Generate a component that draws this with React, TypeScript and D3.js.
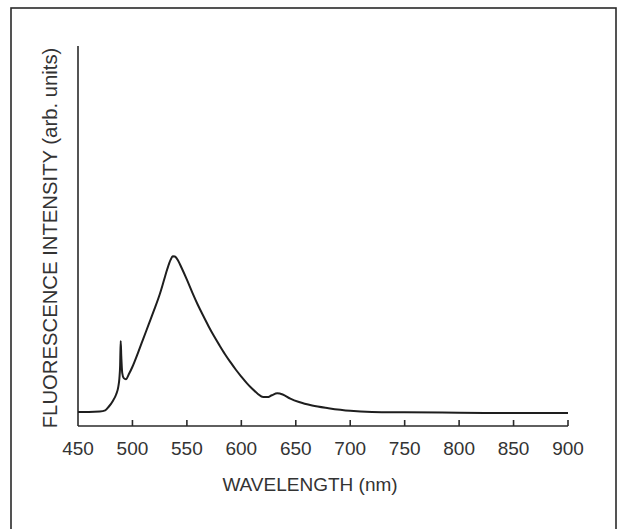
import React, { useEffect, useRef } from 'react';
import * as d3 from 'd3';

// spectrum (wavelength in nm, intensity in arb. units 0..100)
const wavelength = [
  450, 460, 470, 475, 478, 482, 485, 487, 488, 488.7, 489.2, 489.8, 490.6, 492, 494,
  497, 500, 505, 510, 515, 520, 525, 529, 532, 535, 537, 539, 542, 545, 550, 555,
  560, 565, 570, 575, 580, 585, 590, 595, 600, 605, 610, 615, 620, 624, 628, 633,
  638, 645, 653, 665, 680, 700, 720, 750, 800, 850, 900,
];
const intensity = [
  3.7, 3.7, 3.8, 4.1, 5.0, 6.6, 8.3, 10.3, 12.5, 16, 22.4, 18, 14, 12.6, 12.3,
  13.8, 15.6, 19.2, 23, 26.8, 30.6, 34.6, 38.4, 41.3, 43.7, 44.7, 44.6, 43.5, 41.7, 38.5, 35.1,
  31.9, 29, 26.2, 23.6, 21.2, 18.9, 16.8, 14.8, 13, 11.3, 9.8, 8.5, 7.6, 7.6, 8.1, 8.6,
  8.3, 7.2, 6.3, 5.4, 4.7, 4.0, 3.7, 3.6, 3.5, 3.4, 3.4,
];
const xTicks = [450, 500, 550, 600, 650, 700, 750, 800, 850, 900];
const xLabel = 'WAVELENGTH (nm)';
const yLabel = 'FLUORESCENCE INTENSITY (arb. units)';

export default function App() {
  const ref = useRef<SVGSVGElement>(null);

  useEffect(() => {
    const W = 618, H = 529;
    const left = 78, right = 568, top = 46, bottom = 426;
    const ink = '#2a2a2a';
    const font = 'Liberation Sans, Arial, Helvetica, sans-serif';

    const svg = d3.select(ref.current);
    svg.selectAll('*').remove();
    svg.attr('width', W).attr('height', H);

    svg.append('rect').attr('width', W).attr('height', H).attr('fill', '#fff');

    // frame around the figure (its bottom edge runs off the page)
    svg.append('rect')
      .attr('x', 11).attr('y', 8)
      .attr('width', 605).attr('height', 560)
      .attr('fill', 'none').attr('stroke', ink).attr('stroke-width', 1.6);

    const x = d3.scaleLinear().domain([450, 900]).range([left, right]);
    const y = d3.scaleLinear().domain([0, 100]).range([bottom, top]);

    // axes
    svg.append('line')
      .attr('x1', left).attr('x2', left).attr('y1', top).attr('y2', bottom)
      .attr('stroke', ink).attr('stroke-width', 1.6);
    svg.append('line')
      .attr('x1', left).attr('x2', right).attr('y1', bottom).attr('y2', bottom)
      .attr('stroke', ink).attr('stroke-width', 1.6);

    // ticks point inward (up)
    svg.selectAll('.tick')
      .data(xTicks.filter(t => t !== 450))
      .enter().append('line')
      .attr('x1', d => x(d)).attr('x2', d => x(d))
      .attr('y1', bottom).attr('y2', bottom - 6)
      .attr('stroke', ink).attr('stroke-width', 1.6);

    svg.selectAll('.ticklabel')
      .data(xTicks)
      .enter().append('text')
      .attr('x', d => x(d)).attr('y', bottom + 29)
      .attr('text-anchor', 'middle')
      .attr('font-family', font).attr('font-size', 19)
      .attr('fill', '#333')
      .text(d => d);

    svg.append('text')
      .attr('x', 310).attr('y', 491)
      .attr('text-anchor', 'middle')
      .attr('font-family', font).attr('font-size', 19)
      .attr('fill', '#333')
      .text(xLabel);

    svg.append('text')
      .attr('transform', `translate(57, ${238}) rotate(-90)`)
      .attr('text-anchor', 'middle')
      .attr('font-family', font).attr('font-size', 20.3)
      .attr('fill', '#333')
      .text(yLabel);

    const pts = wavelength.map((w, i) => [w, intensity[i]] as [number, number]);
    const line = d3.line<[number, number]>()
      .x(d => x(d[0]))
      .y(d => y(d[1]))
      .curve(d3.curveMonotoneX);

    svg.append('path')
      .datum(pts)
      .attr('d', line)
      .attr('fill', 'none')
      .attr('stroke', '#1e1e1e')
      .attr('stroke-width', 2)
      .attr('stroke-linejoin', 'round');
  }, []);

  return (
    <svg ref={ref} style={{ position: 'absolute', left: 0, top: 0, display: 'block' }} />
  );
}
